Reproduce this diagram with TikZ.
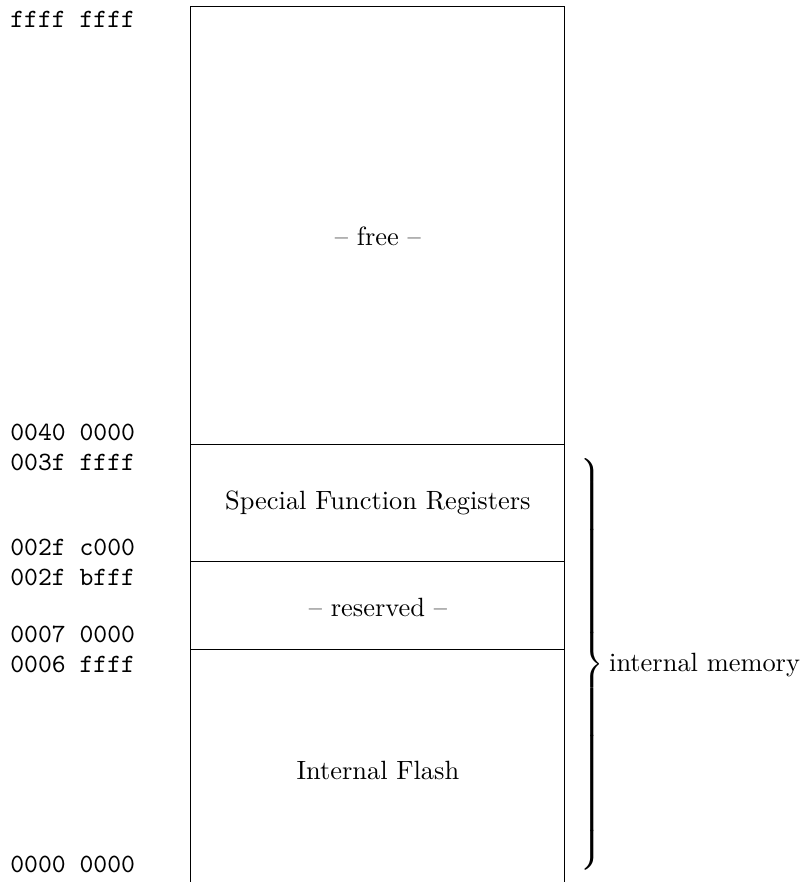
\documentclass[tikz,border=0pt]{standalone}
\usepackage{amsmath}
\usepackage{tikz}
\usetikzlibrary{positioning}

\begin{document}
\begin{tikzpicture}[
        addr/.style={anchor=west, inner sep=0pt, font=\ttfamily},
        region/.style={inner sep=0pt},
        mapline/.style={line width=0.4pt}
    ]
        \useasboundingbox (0,0) rectangle (10.68,11.74);

        % memory column (open at the bottom)
        \coordinate (tl) at (2.53,11.65);
        \coordinate (tr) at (7.52,11.65);
        \coordinate (bl) at (2.53,0);
        \coordinate (br) at (7.52,0);
        \draw[mapline] (bl) -- (tl) -- (tr) -- (br);

        % region borders
        \foreach \y in {5.82, 4.26, 3.09}
            \draw[mapline] (2.53,\y) -- (7.52,\y);

        % regions
        \node[region] (free)  at (5.03,8.59) {-- free --};
        \node[region] (sfr)   at (5.03,5.04) {Special Function Registers};
        \node[region] (resv)  at (5.03,3.66) {-- reserved --};
        \node[region] (flash) at (5.03,1.49) {Internal Flash};

        % addresses
        \node[addr] (a7) at (0.13,11.48) {ffff ffff};
        \node[addr] (a6) at (0.13,5.99)  {0040 0000};
        \node[addr] (a5) at (0.13,5.58)  {003f ffff};
        \node[addr] (a4) at (0.13,4.45)  {002f c000};
        \node[addr] (a3) at (0.13,4.05)  {002f bfff};
        \node[addr] (a2) at (0.13,3.30)  {0007 0000};
        \node[addr] (a1) at (0.13,2.90)  {0006 ffff};
        \node[addr] (a0) at (0.13,0.23)  {0000 0000};

        % internal memory brace
        \node[anchor=west, inner sep=0pt] (intmem) at (7.68,2.87)
            {$\left.\rule[-2.7cm]{0pt}{5.4cm}\right\}$\hspace{1.9pt}internal memory};
    \end{tikzpicture}
\end{document}
